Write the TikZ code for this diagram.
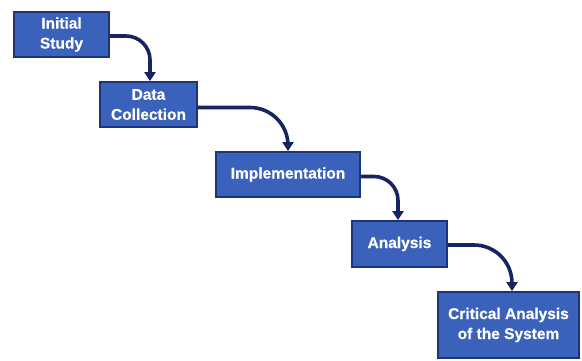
\documentclass[tikz,border=0pt]{standalone}
\usepackage{fontspec}
\setmainfont{Liberation Sans}[BoldFeatures={FakeBold=0.6}]
\usetikzlibrary{arrows.meta}
\definecolor{boxfill}{RGB}{58,98,186}
\definecolor{boxedge}{RGB}{28,52,128}
\definecolor{flow}{RGB}{24,36,96}
\begin{document}
\begin{tikzpicture}[x=1pt,y=-1pt,
  stage/.style={draw=boxedge, line width=1.8pt, fill=boxfill, text=white,
    font=\fontsize{15.5}{20}\selectfont\bfseries, align=center,
    inner sep=0pt, minimum height=45pt},
  link/.style={draw=flow, line width=3.6pt,
    -{Triangle[width=11pt,length=9pt]}}]
\useasboundingbox (0,0) rectangle (582,361);
\fill[white] (0,0) rectangle (582,361);

\node[stage, minimum width=95pt] (init) at (61.5,34.5) {Initial\\Study};
\node[stage, minimum width=97pt] (data) at (148.5,104.5) {Data\\Collection};
\node[stage, minimum width=144pt] (impl) at (288,174.5) {Implementation};
\node[stage, minimum width=95pt, minimum height=46pt] (anal) at (399.5,244) {Analysis};
\node[stage, minimum width=141pt, minimum height=66pt] (crit) at (508.5,325) {Critical Analysis\\of the System};

\draw[link, rounded corners=24pt] ([yshift=-1.5pt]init.east) -| ([xshift=1.5pt]data.north);
\draw[link, rounded corners=38pt] ([yshift=-3pt]data.east) -| (impl.north);
\draw[link, rounded corners=24pt] ([yshift=-2pt]impl.east) -| ([xshift=-1.5pt]anal.north);
\draw[link, rounded corners=38pt] ([yshift=-1pt]anal.east) -| ([xshift=3.5pt]crit.north);
\end{tikzpicture}
\end{document}
